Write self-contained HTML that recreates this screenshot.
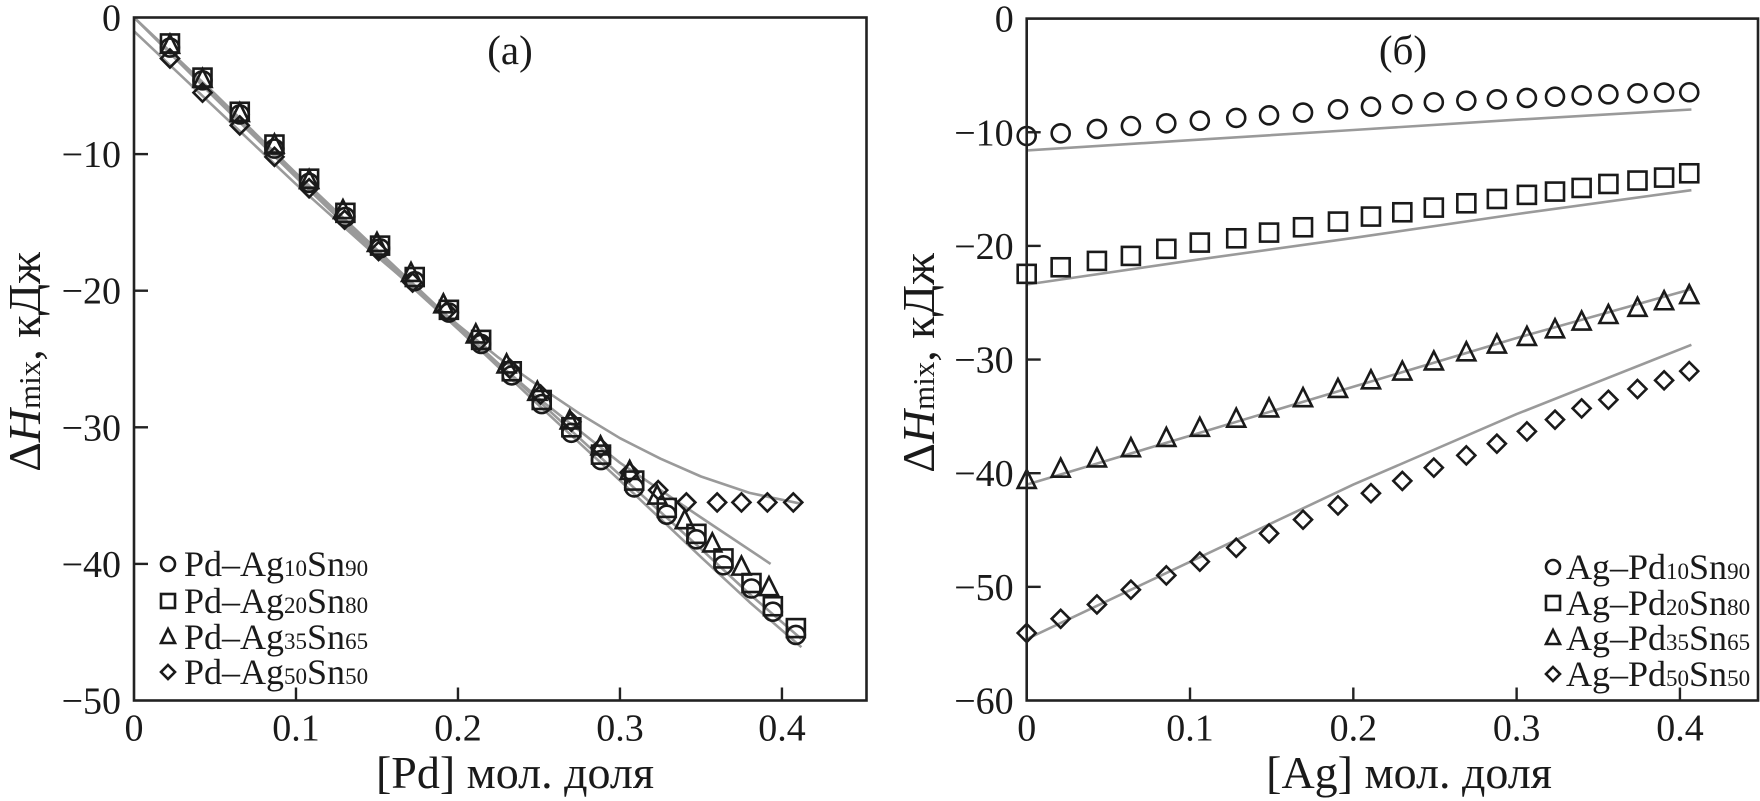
<!DOCTYPE html>
<html><head><meta charset="utf-8">
<style>
html,body{margin:0;padding:0;background:#fff;}
svg{display:block;font-family:"Liberation Serif",serif;}
</style></head>
<body>
<svg id="chart" width="1760" height="801" viewBox="0 0 1760 801" xmlns="http://www.w3.org/2000/svg">
</svg>
<script>
// ---- Panel (a) data ----
const xA = [0.0222,0.0423,0.0653,0.0867,0.1081,0.1305,0.1519,0.1733,0.1944,0.2143,0.2332,0.2517,0.2700,0.2883,0.3088,0.3289,0.3472,0.3639,0.3812,0.3944,0.4086];
const aCircle = [-2.2,-4.6,-7.1,-9.6,-12.1,-14.6,-16.9,-19.3,-21.6,-23.9,-26.2,-28.3,-30.4,-32.4,-34.4,-36.4,-38.2,-40.1,-41.8,-43.5,-45.2];
const aSquare = [-1.9,-4.4,-6.9,-9.3,-11.8,-14.3,-16.7,-19.0,-21.4,-23.6,-25.9,-28.0,-30.0,-32.0,-33.9,-35.9,-37.8,-39.6,-41.4,-43.1,-44.7];
const xATri = [0.0222,0.0423,0.0653,0.0867,0.1081,0.1290,0.1500,0.1710,0.1910,0.2110,0.2300,0.2490,0.2690,0.2880,0.3060,0.3230,0.3400,0.3570,0.3750,0.3920];
const aTri = [-2.0,-4.5,-7.0,-9.3,-11.9,-14.1,-16.5,-18.7,-21.0,-23.2,-25.4,-27.4,-29.5,-31.4,-33.2,-35.0,-36.8,-38.5,-40.2,-41.7];
const xADia = [0.0222,0.0423,0.0653,0.0867,0.1081,0.1300,0.1510,0.1720,0.1930,0.2130,0.2320,0.2510,0.2700,0.2880,0.3060,0.3236,0.3410,0.3600,0.3750,0.3910,0.4070];
const aDia = [-3.0,-5.5,-7.9,-10.2,-12.5,-14.8,-17.1,-19.4,-21.5,-23.7,-25.7,-27.6,-29.6,-31.5,-33.3,-34.6,-35.5,-35.5,-35.5,-35.5,-35.5];
const aLineX = [0,0.05,0.1,0.15,0.2,0.25,0.3,0.35,0.38,0.412];
const aLineA = [0,-5.7,-11.5,-17.2,-22.8,-28.4,-33.9,-39.5,-42.8,-46.1];
const aLineB = [0,-5.6,-11.4,-17.0,-22.6,-28.1,-33.5,-38.9,-42.2,-45.5];
const aLineCX = [0,0.05,0.1,0.15,0.2,0.25,0.3,0.35,0.393];
const aLineC = [0,-5.9,-11.7,-17.4,-22.8,-27.9,-32.6,-36.6,-40.0];
const aLineDX = [0,0.05,0.1,0.15,0.2,0.225,0.25,0.275,0.3,0.325,0.35,0.38,0.412];
const aLineD = [-1.0,-6.6,-12.2,-17.5,-22.5,-24.9,-27.0,-29.0,-30.8,-32.3,-33.6,-34.8,-35.6];
const aXTicks = [0,0.1,0.2,0.3,0.4];
const aXTickLabels = ["0","0.1","0.2","0.3","0.4"];
const aYTicks = [0,-10,-20,-30,-40,-50];
const aYTickLabels = ["0","−10","−20","−30","−40","−50"];

// ---- Panel (b) data ----
const xB = [0,0.0208,0.0430,0.0638,0.0855,0.1060,0.1283,0.1484,0.1692,0.1906,0.2108,0.2300,0.2493,0.2692,0.2879,0.3063,0.3235,0.3398,0.3562,0.3740,0.3903,0.4057];
const bCircle = [-10.33,-10.09,-9.71,-9.45,-9.21,-8.98,-8.74,-8.51,-8.27,-7.98,-7.75,-7.54,-7.36,-7.22,-7.10,-6.98,-6.87,-6.75,-6.66,-6.57,-6.51,-6.48];
const bSquare = [-22.46,-21.88,-21.32,-20.88,-20.26,-19.71,-19.33,-18.83,-18.36,-17.86,-17.42,-17.04,-16.63,-16.25,-15.87,-15.51,-15.22,-14.90,-14.55,-14.25,-13.99,-13.61];
const bTri = [-40.59,-39.60,-38.70,-37.80,-36.90,-36.01,-35.20,-34.30,-33.40,-32.59,-31.83,-31.06,-30.17,-29.36,-28.68,-28.01,-27.34,-26.66,-26.08,-25.45,-24.87,-24.33];
const bDia = [-54.06,-52.81,-51.55,-50.25,-48.99,-47.78,-46.56,-45.30,-44.09,-42.83,-41.76,-40.68,-39.51,-38.43,-37.40,-36.32,-35.29,-34.30,-33.54,-32.59,-31.83,-31.02];
const bLineX = [0,0.1,0.2,0.3,0.407];
const bLineCircle = [-11.6,-10.7,-9.8,-8.9,-8.0];
const bLineSquare = [-23.4,-21.3,-19.3,-17.2,-15.1];
const bLineTri = [-41.0,-36.7,-32.4,-28.1,-23.8];
const bLineDia = [-54.6,-47.8,-41.0,-34.8,-28.7];
const bXTicks = [0,0.1,0.2,0.3,0.4];
const bXTickLabels = ["0","0.1","0.2","0.3","0.4"];
const bYTicks = [0,-10,-20,-30,-40,-50,-60];
const bYTickLabels = ["0","−10","−20","−30","−40","−50","−60"];

const NS = "http://www.w3.org/2000/svg";
const svg = document.getElementById('chart');
function mk(tag, attrs, parent){
  const e = document.createElementNS(NS, tag);
  for (const k in attrs) e.setAttribute(k, attrs[k]);
  (parent||svg).appendChild(e);
  return e;
}
function panel(cfg){
  const g = mk('g', {});
  
  
  const sx = v => cfg.x0 + (v - cfg.xmin) / (cfg.xmax - cfg.xmin) * (cfg.x1 - cfg.x0);
  const sy = v => cfg.y0 + (v - cfg.ymax) / (cfg.ymin - cfg.ymax) * (cfg.y1 - cfg.y0);
  cfg.lines.forEach((L, i) => {
    const d = L.x.map((xv, j) => (j ? 'L' : 'M') + sx(xv).toFixed(1) + ' ' + sy(L.y[j]).toFixed(1)).join(' ');
    const p = mk('path', {d: d, fill: 'none', stroke: '#9a9a9a', 'stroke-width': 2.6, 'stroke-linejoin': 'round'}, g);
    
    
  });
  cfg.series.forEach(S => {
    S.y.forEach((yv, j) => {
      const m = marker(S.shape, sx(S.x[j]), sy(yv), 9, g);
      
      
    });
  });
  const fr = mk('rect', {x: cfg.x0, y: cfg.y0, width: cfg.x1 - cfg.x0, height: cfg.y1 - cfg.y0, fill: 'none', stroke: '#222', 'stroke-width': 2.6}, g);
  
  
  cfg.xt.forEach((t, i) => {
    const X = sx(t);
    if (i > 0) mk('line', {x1: X, x2: X, y1: cfg.y1, y2: cfg.y1 - 13, stroke: '#222', 'stroke-width': 2.4}, g);
    const tx = mk('text', {x: X, y: cfg.y1 + 40, 'font-size': 38, 'text-anchor': 'middle', fill: '#1a1a1a'}, g);
    tx.textContent = cfg.xtl[i];
    
    
  });
  cfg.yt.forEach((t, i) => {
    const Y = sy(t);
    if (i > 0 && i < cfg.yt.length - 1) mk('line', {x1: cfg.x0, x2: cfg.x0 + 14, y1: Y, y2: Y, stroke: '#222', 'stroke-width': 2.4}, g);
    const tx = mk('text', {x: cfg.x0 - 13, y: Y + 13, 'font-size': 38, 'text-anchor': 'end', fill: '#1a1a1a'}, g);
    tx.textContent = cfg.ytl[i];
    
    
  });
  return g;
}
function marker(shape, x, y, r, parent){
  const st = {fill: 'none', stroke: '#1a1a1a', 'stroke-width': 2.6};
  let e;
  if (shape === 'circle') e = mk('circle', Object.assign({cx: x, cy: y, r: r}, st), parent);
  else if (shape === 'square') e = mk('rect', Object.assign({x: x - r, y: y - r, width: 2 * r, height: 2 * r}, st), parent);
  else if (shape === 'tri') e = mk('polygon', Object.assign({points: `${x},${y - r - 1} ${x - r},${y + r - 1} ${x + r},${y + r - 1}`}, st), parent);
  else e = mk('polygon', Object.assign({points: `${x},${y - r} ${x + r},${y} ${x},${y + r} ${x - r},${y}`}, st), parent);
  return e;
}

panel({name: 'panel-a', x0: 134, x1: 866.5, y0: 17.5, y1: 700.5, xmin: 0, xmax: 0.4522, ymin: -50, ymax: 0,
  xt: aXTicks, xtl: aXTickLabels, yt: aYTicks, ytl: aYTickLabels,
  lines: [{n: 'a1', x: aLineX, y: aLineA}, {n: 'a2', x: aLineX, y: aLineB}, {n: 'a3', x: aLineCX, y: aLineC}, {n: 'a4', x: aLineDX, y: aLineD}],
  series: [{n: 'ag10sn90', shape: 'circle', x: xA, y: aCircle}, {n: 'ag20sn80', shape: 'square', x: xA, y: aSquare},
           {n: 'ag35sn65', shape: 'tri', x: xATri, y: aTri}, {n: 'ag50sn50', shape: 'diamond', x: xADia, y: aDia}]
});
panel({name: 'panel-b', x0: 1026.7, x1: 1758, y0: 18.6, y1: 700.5, xmin: 0, xmax: 0.4478, ymin: -60, ymax: 0,
  xt: bXTicks, xtl: bXTickLabels, yt: bYTicks, ytl: bYTickLabels,
  lines: [{n: 'b1', x: bLineX, y: bLineCircle}, {n: 'b2', x: bLineX, y: bLineSquare}, {n: 'b3', x: bLineX, y: bLineTri}, {n: 'b4', x: bLineX, y: bLineDia}],
  series: [{n: 'pd10sn90', shape: 'circle', x: xB, y: bCircle}, {n: 'pd20sn80', shape: 'square', x: xB, y: bSquare},
           {n: 'pd35sn65', shape: 'tri', x: xB, y: bTri}, {n: 'pd50sn50', shape: 'diamond', x: xB, y: bDia}]
});

function legend(name, mx, tx, ys, a, b, labels){
  const shapes = ['circle', 'square', 'tri', 'diamond'];
  const g = mk('g', {});
  
  
  labels.forEach((l, i) => {
    const m = marker(shapes[i], mx, ys[i], 7, g);
    
    
    const t = mk('text', {x: tx, y: ys[i] + 12, 'font-size': 36, fill: '#1a1a1a'}, g);
    
    
    t.innerHTML = `${a}–${b}<tspan font-size="23">${l[0]}</tspan>Sn<tspan font-size="23">${l[1]}</tspan>`;
  });
}
legend('legend-a', 168, 184, [564, 601, 637, 672], 'Pd', 'Ag', [['10','90'],['20','80'],['35','65'],['50','50']]);
legend('legend-b', 1553, 1566, [567, 603, 638, 674], 'Ag', 'Pd', [['10','90'],['20','80'],['35','65'],['50','50']]);
</script>
<script>
(function(){
  const NS = "http://www.w3.org/2000/svg";
  const svg = document.getElementById('chart');
  function t(attrs, html, name){
    const e = document.createElementNS(NS, 'text');
    for (const k in attrs) e.setAttribute(k, attrs[k]);
    e.innerHTML = html;
    
    
    svg.appendChild(e);
  }
  t({x: 510, y: 64, 'font-size': 41, 'text-anchor': 'middle', fill: '#1a1a1a'}, '(a)', 'panel-label-a');
  t({x: 1403, y: 64, 'font-size': 41, 'text-anchor': 'middle', fill: '#1a1a1a'}, '(б)', 'panel-label-b');
  t({x: 515, y: 788, 'font-size': 46, 'text-anchor': 'middle', fill: '#1a1a1a'}, '[Pd] мол. доля', 'x-axis-title-a');
  t({x: 1409, y: 788, 'font-size': 46, 'text-anchor': 'middle', fill: '#1a1a1a'}, '[Ag] мол. доля', 'x-axis-title-b');
  const yl = 'Δ<tspan font-style="italic">H</tspan><tspan font-size="31">mix</tspan>, кДж';
  t({x: 0, y: 0, 'font-size': 46, 'text-anchor': 'middle', fill: '#1a1a1a', transform: 'translate(40 362) rotate(-90)'}, yl, 'y-axis-title-a');
  t({x: 0, y: 0, 'font-size': 46, 'text-anchor': 'middle', fill: '#1a1a1a', transform: 'translate(934 363) rotate(-90)'}, yl, 'y-axis-title-b');
})();
</script>
</body></html>
